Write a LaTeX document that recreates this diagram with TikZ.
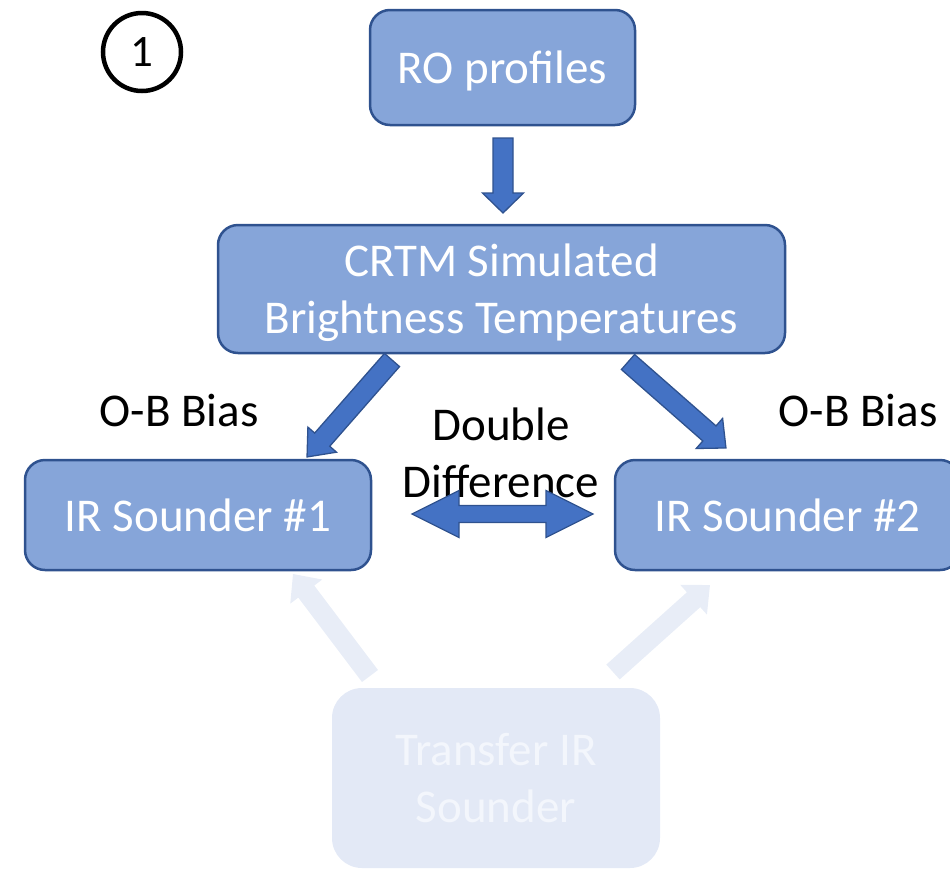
\documentclass[tikz,border=0pt]{standalone}
\usepackage{fontspec}
\setmainfont{Carlito}
\usetikzlibrary{calc}
\definecolor{boxfill}{RGB}{134,165,217}
\definecolor{boxline}{RGB}{47,82,143}
\definecolor{arrfill}{RGB}{68,114,196}
\definecolor{fadefill}{RGB}{227,233,246}
\definecolor{fadearrow}{RGB}{232,237,247}
\definecolor{fadetext}{RGB}{243,246,252}
\tikzset{
  bigtext/.style={font=\fontsize{47}{57}\selectfont},
  box/.style={draw=boxline, line width=2.5pt, fill=boxfill, rounded corners=20pt,
    text=white, bigtext, align=center, inner sep=0pt, text depth=0pt},
  fadebox/.style={fill=fadefill, rounded corners=30pt, text=fadetext, bigtext,
    align=center, inner sep=0pt},
  lbl/.style={text=black, bigtext, align=center, inner sep=0pt},
  barrow/.style={fill=arrfill, draw=boxline, line width=1.3pt, line join=miter},
  farrow/.style={fill=fadearrow, draw=none},
}
% #1 style, #2 start, #3 end, #4 shaft half width, #5 head half width, #6 head length
\newcommand{\blockarrow}[6][]{%
  \draw[#1] let \p1=(#2), \p2=(#3),
    \n1={atan2(\y2-\y1,\x2-\x1)}, \n2={veclen(\x2-\x1,\y2-\y1)} in
    [shift={(\p1)}, rotate=\n1]
    (0,-#4) -- (\n2-#6,-#4) -- (\n2-#6,-#5) -- (\n2,0) -- (\n2-#6,#5)
    -- (\n2-#6,#4) -- (0,#4) -- cycle;
}
\newcommand{\dblarrow}[6][]{%
  \draw[#1] let \p1=(#2), \p2=(#3),
    \n1={atan2(\y2-\y1,\x2-\x1)}, \n2={veclen(\x2-\x1,\y2-\y1)} in
    [shift={(\p1)}, rotate=\n1]
    (0,0) -- (#6,-#5) -- (#6,-#4) -- (\n2-#6,-#4) -- (\n2-#6,-#5) -- (\n2,0)
    -- (\n2-#6,#5) -- (\n2-#6,#4) -- (#6,#4) -- (#6,#5) -- cycle;
}
\begin{document}
\begin{tikzpicture}[x=1pt,y=-1pt]
\useasboundingbox (0,0) rectangle (950,868);
\clip (0,0) rectangle (950,868);

% step marker
\node[draw=black, line width=4.5pt, circle, minimum size=78pt, inner sep=0pt,
  font=\fontsize{45}{50}\selectfont] (num) at (142,52) {1};

% boxes
\node[box, minimum width=265pt, minimum height=115pt] (ro) at (502.5,67.5) {RO profiles};
\node[box, minimum width=567pt, minimum height=128pt] (crtm) at (501.5,289)
  {CRTM Simulated\\Brightness Temperatures};
\node[box, minimum width=346pt, minimum height=110pt] (ir1) at (198,515) {IR Sounder \#1};
\node[box, minimum width=345pt, minimum height=110pt] (ir2) at (787.5,515) {IR Sounder \#2};
\node[fadebox, minimum width=328pt, minimum height=180pt] (tr) at (496,778)
  {Transfer IR\\Sounder};

% labels
\node[lbl] (ob1) at (179,410) {O-B Bias};
\node[lbl] (ob2) at (858,410) {O-B Bias};
\node[lbl] (dd) at (501,453) {Double\\Difference};

% arrow end points
\coordinate (a1s) at (503,138);   \coordinate (a1e) at (503,213);
\coordinate (a2s) at (392,360);   \coordinate (a2e) at (307,457);
\coordinate (a3s) at (628,362);   \coordinate (a3e) at (726,448);
\coordinate (a4s) at (412,514);   \coordinate (a4e) at (593,514);
\coordinate (a5s) at (370,676);   \coordinate (a5e) at (293,574);
\coordinate (a6s) at (613,672);   \coordinate (a6e) at (710,585);

\blockarrow[barrow]{a1s}{a1e}{10}{20.5}{20}
\blockarrow[barrow]{a2s}{a2e}{10}{19}{23}
\blockarrow[barrow]{a3s}{a3e}{10}{20}{22}
\dblarrow[barrow]{a4s}{a4e}{8.5}{23.5}{47}
\blockarrow[farrow]{a5s}{a5e}{10}{20}{22}
\blockarrow[farrow]{a6s}{a6e}{10}{20}{22}
\end{tikzpicture}
\end{document}
